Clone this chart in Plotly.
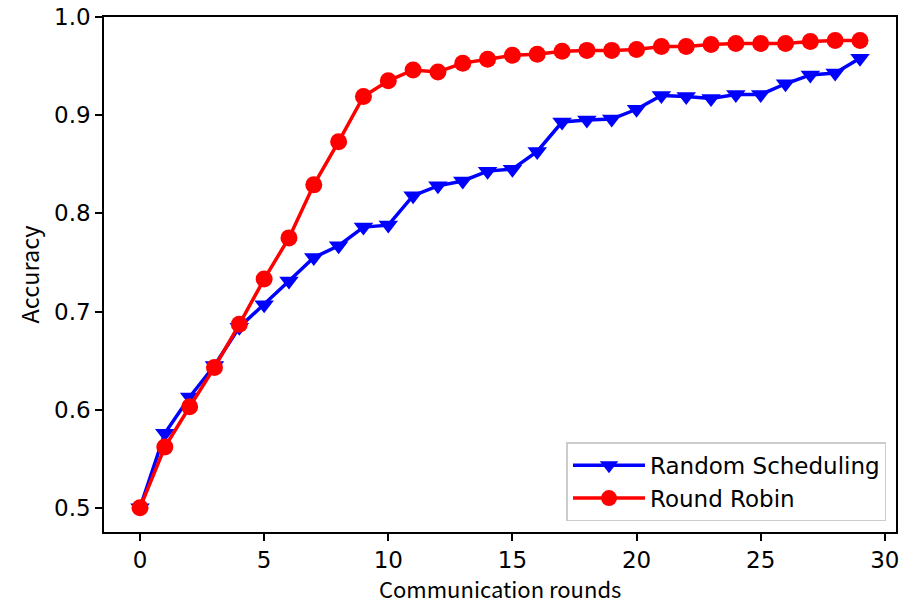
import plotly.graph_objects as go

rounds = list(range(30))
random_scheduling = [0.500, 0.576, 0.613, 0.645, 0.684, 0.707, 0.731, 0.755, 0.767, 0.786,
                     0.788, 0.818, 0.828, 0.833, 0.843, 0.845, 0.863, 0.893, 0.895, 0.896,
                     0.906, 0.920, 0.919, 0.917, 0.921, 0.921, 0.932, 0.941, 0.943, 0.958]
round_robin = [0.500, 0.562, 0.603, 0.643, 0.687, 0.733, 0.775, 0.829, 0.873, 0.919,
               0.935, 0.946, 0.944, 0.953, 0.957, 0.961, 0.962, 0.965, 0.966, 0.966,
               0.967, 0.970, 0.970, 0.972, 0.973, 0.973, 0.973, 0.975, 0.976, 0.976]
x_ticks = [0, 5, 10, 15, 20, 25, 30]
y_ticks = [0.5, 0.6, 0.7, 0.8, 0.9, 1.0]

FONT = "DejaVu Sans"
TITLE_FONT = "Noto Sans CJK KR"

fig = go.Figure()
fig.add_trace(go.Scatter(
    x=rounds, y=random_scheduling, mode="lines+markers", name="Random Scheduling",
    line=dict(color="#0000ff", width=3.5),
    marker=dict(symbol="triangle-down", size=17, color="#0000ff"),
))
fig.add_trace(go.Scatter(
    x=rounds, y=round_robin, mode="lines+markers", name="Round Robin",
    line=dict(color="#ff0000", width=3.5),
    marker=dict(symbol="circle", size=17, color="#ff0000"),
))

axis_common = dict(
    showline=True, linecolor="black", linewidth=1.5, mirror=True,
    ticks="outside", ticklen=7, tickwidth=1.5, tickcolor="black",
    showgrid=False, zeroline=False, automargin=False,
    ticklabeloverflow="allow",
    tickfont=dict(family=FONT, size=23, color="black"),
)

fig.update_layout(
    width=915, height=600,
    margin=dict(l=104, r=19, t=17, b=68),
    paper_bgcolor="white", plot_bgcolor="white",
    xaxis=dict(range=[-1.45, 30.45], tickvals=x_ticks, **axis_common),
    yaxis=dict(range=[0.4754, 1.0], tickvals=y_ticks, tickformat=".1f",
               title=dict(text="Accuracy", standoff=8,
                          font=dict(family=TITLE_FONT, size=23.5, color="black")),
               **axis_common),
    legend=dict(x=0.988, y=0.021, xanchor="right", yanchor="bottom",
                bgcolor="white", bordercolor="#cccccc", borderwidth=1.5,
                font=dict(family=FONT, size=23, color="black"),
                itemwidth=72, tracegroupgap=0),
    showlegend=True,
    annotations=[dict(text="Communication rounds", xref="paper", yref="paper",
                      x=0.5, y=-0.108, xanchor="center", yanchor="middle",
                      showarrow=False,
                      font=dict(family=TITLE_FONT, size=22, color="black"))],
)

fig.write_html("out.html", config={"displayModeBar": False},
               post_script="document.body.style.margin='0';")
